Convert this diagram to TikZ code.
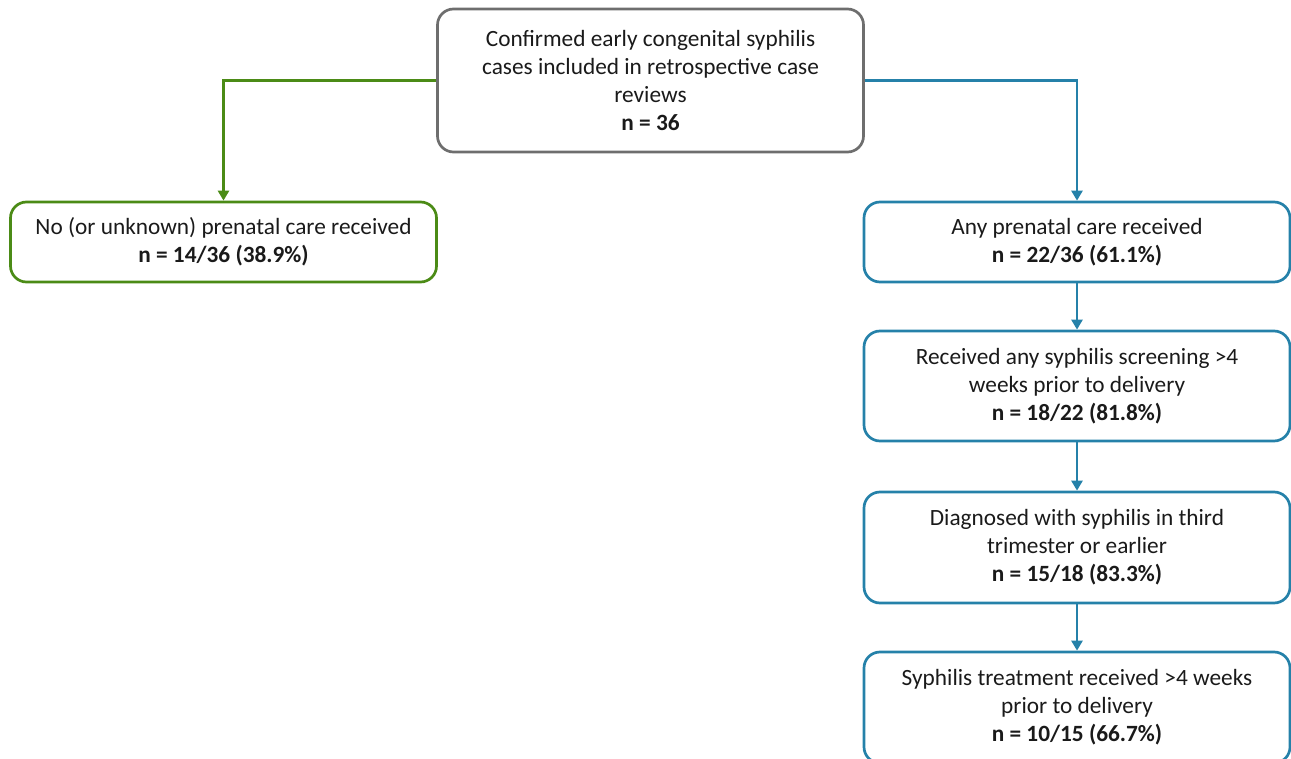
\documentclass[tikz,border=0pt]{standalone}
\usepackage{fontspec}
\setmainfont{Carlito}
\usetikzlibrary{arrows.meta}
\definecolor{cgray}{HTML}{6E6E6E}
\definecolor{cgreen}{HTML}{4B8B16}
\definecolor{cblue}{HTML}{2581A9}
\definecolor{ctext}{HTML}{1A1A1A}
\begin{document}
\begin{tikzpicture}[x=1pt,y=-1pt,
  box/.style={draw, line width=2.7pt, rounded corners=16pt, inner sep=0pt,
    align=center, text=ctext, font=\fontsize{23.3}{28}\selectfont, minimum width=426pt},
  graybox/.style={box, draw=cgray},
  greenbox/.style={box, draw=cgreen},
  bluebox/.style={box, draw=cblue},
  conn/.style={line width=2.5pt, -{Triangle[width=11pt,length=10pt]}}
]
\useasboundingbox (0,0) rectangle (1291,759);
\node[graybox, minimum height=143pt] (top) at (650.5,80.5)
  {Confirmed early congenital syphilis\\cases included in retrospective case\\reviews\\\textbf{n = 36}};
\node[greenbox, minimum height=80pt] (none) at (223.5,242)
  {No (or unknown) prenatal care received\\\textbf{n = 14/36 (38.9\%)}};
\node[bluebox, minimum height=80pt] (any) at (1077,242)
  {Any prenatal care received\\\textbf{n = 22/36 (61.1\%)}};
\node[bluebox, minimum height=110pt] (screen) at (1077,386)
  {Received any syphilis screening >4\\weeks prior to delivery\\\textbf{n = 18/22 (81.8\%)}};
\node[bluebox, minimum height=111pt] (diag) at (1077,547.5)
  {Diagnosed with syphilis in third\\trimester or earlier\\\textbf{n = 15/18 (83.3\%)}};
\node[bluebox, minimum height=111pt] (treat) at (1077,707.5)
  {Syphilis treatment received >4 weeks\\prior to delivery\\\textbf{n = 10/15 (66.7\%)}};
\draw[conn, cgreen] (top.west) -| (none.north);
\draw[conn, cblue] (top.east) -| (any.north);
\draw[conn, cblue] (any.south) -- (screen.north);
\draw[conn, cblue] (screen.south) -- (diag.north);
\draw[conn, cblue] (diag.south) -- (treat.north);
\end{tikzpicture}
\end{document}
